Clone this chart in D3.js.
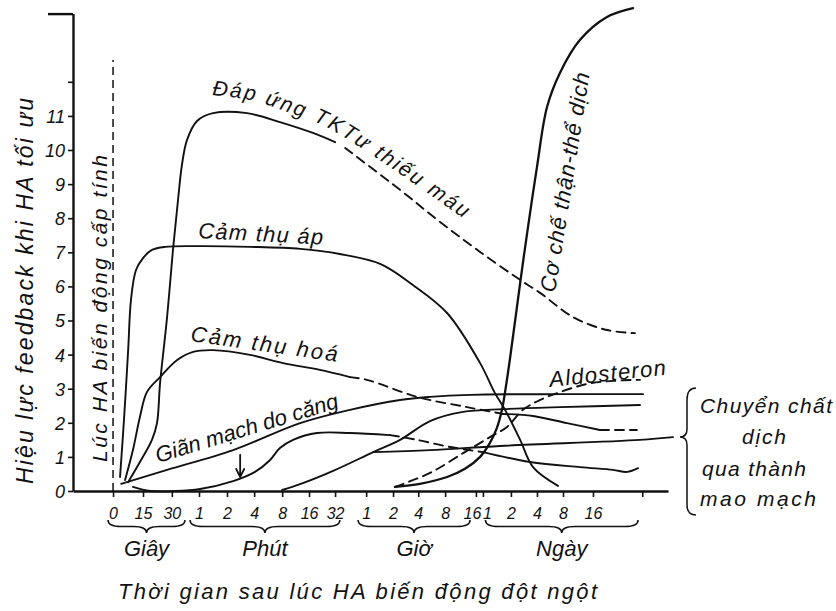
<!DOCTYPE html>
<html>
<head>
<meta charset="utf-8">
<script src="https://cdn.jsdelivr.net/npm/d3@7"></script>
<style>
  body { margin: 0; background: #fff; }
  svg { display: block; }
  text { font-family: "Liberation Sans", "DejaVu Sans", sans-serif; font-style: italic; fill: #111; }
</style>
</head>
<body>
<svg id="chart" width="836" height="611"></svg>
<script>
// ---- time axis: tick positions (axis units) and their labels ----
const tickPos    = [0, 1.07, 2.1, 3.07, 4.07, 5.04, 6.04, 7.0, 7.93, 9.04, 10.0, 10.9, 11.86, 12.96, 13.21, 14.21, 15.14, 16.07, 17.14, 18.9];
const tickLabels = ["0", "15", "30", "1", "2", "4", "8", "16", "32", "1", "2", "4", "8", "16", "1", "2", "4", "8", "16", ""];
const groupNames = ["Giây", "Phút", "Giờ", "Ngày"];
const groupSpans = [[-0.18, 2.57], [2.75, 8.1], [8.75, 12.75], [13.3, 18.75]];

// ---- effect axis ----
const yTickValues = [0, 1, 2, 3, 4, 5, 6, 7, 8, 9, 10, 11, 12, 14];
const yTickLabels = ["0", "1", "2", "3", "4", "5", "6", "7", "8", "9", "10", "11", "", ""];

// ---- feedback curves: [time position, effect] ----
const baroreceptor = [[0.25,0.41],[0.39,2.08],[0.54,4.13],[0.64,5.6],[0.82,6.48],[1.07,6.83],[1.39,7.07],[1.86,7.16],[3.11,7.18],[4.89,7.16],[6.68,7.1],[8.1,6.95],[9.54,6.66],[10.71,6.04],[11.93,5.22],[13.11,3.75],[13.64,2.87],[14.0,2.38],[14.54,1.5],[15.0,0.7],[15.89,0.15]];

const chemoA      = [[0.43,0.32],[0.71,1.2],[0.96,2.17],[1.21,2.9],[1.68,3.34],[2.29,3.84],[2.86,4.08],[3.57,4.13],[4.89,3.99],[6.07,3.75],[7.39,3.55],[8.46,3.34]];
const chemoB      = [[8.46,3.34],[9.07,3.26],[10.86,2.76],[12.64,2.46],[13.93,2.26]];
const chemoC      = [[13.93,2.26],[15.0,2.2],[16.21,1.99],[17.39,1.79]];
const chemoD      = [[17.39,1.79],[18.71,1.79]];

const cnsSolid    = [[0.54,0.26],[0.96,0.85],[1.39,1.5],[1.57,1.99],[1.68,3.17],[1.93,5.1],[2.14,7.07],[2.32,8.53],[2.46,9.56],[2.64,10.29],[3.0,10.85],[3.57,11.08],[4.79,11.08],[5.96,10.82],[7.14,10.5],[7.93,10.23]];
const cnsDashed   = [[8.29,10.06],[10.25,8.83],[11.68,7.89],[13.11,7.01],[14.54,6.19],[15.25,5.81],[16.43,5.1],[17.64,4.72],[18.64,4.63]];

const stressRelax = [[0.29,0.21],[1.93,0.62],[4.29,1.2],[6.68,1.99],[8.46,2.38],[10.25,2.67],[11.32,2.76],[12.75,2.82],[15.96,2.84],[18.93,2.84]];

const arrowA      = [[0.71,0.12],[1.32,0.0],[2.21,0.0],[3.11,0.06],[4.29,0.29],[5.07,0.56],[5.61,0.91],[5.96,1.26],[6.43,1.5],[7.29,1.7],[8.46,1.7],[9.89,1.64]];
const arrowB      = [[9.89,1.64],[10.86,1.5],[12.04,1.29],[13.21,1.14]];
const arrowC      = [[13.21,1.14],[14.89,0.85],[16.68,0.7],[17.86,0.62],[18.36,0.56],[18.75,0.67]];

const fluidRise   = [[6.04,0.03],[6.68,0.2],[7.86,0.59],[9.29,1.14],[10.25,1.5],[11.32,2.05],[12.5,2.32],[13.93,2.4],[15.96,2.46],[18.82,2.52]];
const fluidShift  = [[9.29,1.14],[11.32,1.2],[13.82,1.32],[18.82,1.5],[20.0,1.58]];

const renal       = [[10.07,0.12],[10.96,0.21],[11.93,0.41],[12.57,0.65],[13.11,1.0],[13.46,1.41],[13.71,1.85],[13.89,2.38],[14.0,2.9],[14.18,3.9],[14.54,6.1],[14.79,7.57],[15.14,9.5],[15.5,11.26],[15.96,12.26],[16.68,13.23],[17.64,13.9],[18.57,14.16]];
const aldosterone = [[10.07,0.12],[11.32,0.53],[12.5,1.11],[13.46,1.58],[14.07,1.88],[14.64,2.38],[15.25,2.67],[15.96,2.9],[16.93,3.14],[17.86,3.23],[18.82,3.26]];

// ---- drawing ----
const svg = d3.select("#chart");
const x = d3.scaleLinear().domain([-1.43, 19.82]).range([73, 668]);
const y = d3.scaleLinear().domain([0, 14]).range([491, 13.6]);
const ink = "#111";

const line = d3.line().x(d => x(d[0])).y(d => y(d[1])).curve(d3.curveCatmullRom.alpha(0.5));

const curves = [
  {d: baroreceptor, dash: null},
  {d: chemoA, dash: null}, {d: chemoB, dash: "9,6"}, {d: chemoC, dash: null}, {d: chemoD, dash: "9,6"},
  {d: cnsSolid, dash: null}, {d: cnsDashed, dash: "9,6"},
  {d: stressRelax, dash: null},
  {d: arrowA, dash: null}, {d: arrowB, dash: "9,6"}, {d: arrowC, dash: null},
  {d: fluidRise, dash: null}, {d: fluidShift, dash: null},
  {d: renal, dash: null, w: 2.3},
  {d: aldosterone, dash: "9,6"}
];

svg.append("g").selectAll("path").data(curves).join("path")
  .attr("d", c => line(c.d))
  .attr("fill", "none")
  .attr("stroke", ink)
  .attr("stroke-width", c => c.w || 1.9)
  .attr("stroke-linecap", "round")
  .attr("stroke-dasharray", c => c.dash);

// vertical dashed marker at the moment of the pressure change
svg.append("line")
  .attr("x1", x(0)).attr("x2", x(0))
  .attr("y1", y(0)).attr("y2", y(12.64))
  .attr("stroke", ink).attr("stroke-width", 1.5).attr("stroke-dasharray", "8,5");

// arrow pointing down
const ax = x(4.54), ay1 = y(1.06), ay2 = y(0.41);
svg.append("path")
  .attr("d", `M${ax},${ay1} L${ax},${ay2} M${ax-4},${ay2-8} L${ax},${ay2} L${ax+4},${ay2-8}`)
  .attr("fill", "none").attr("stroke", ink).attr("stroke-width", 1.8).attr("stroke-linecap", "round");

// y axis
const yAxis = svg.append("g").attr("transform", `translate(${x(-1.43)},0)`)
  .call(d3.axisLeft(y).tickValues(yTickValues).tickSize(5).tickSizeOuter(0)
        .tickFormat((d, i) => yTickLabels[i]));
yAxis.select(".domain").attr("stroke", ink).attr("stroke-width", 2.4);
yAxis.selectAll(".tick line").attr("stroke", ink).attr("stroke-width", 1.6)
  .filter(d => d === 14).attr("x2", -25).attr("stroke-width", 2.4);
yAxis.selectAll(".tick text")
  .attr("x", -8).attr("dy", "0.36em")
  .style("font-family", "'Liberation Sans', sans-serif").style("font-style", "italic")
  .style("font-size", "18px").attr("fill", ink);

// x axis
const xAxis = svg.append("g").attr("transform", `translate(0,${y(0)})`)
  .call(d3.axisBottom(x).tickValues(tickPos).tickSize(6).tickSizeOuter(0)
        .tickFormat((d, i) => tickLabels[i]));
xAxis.select(".domain").attr("stroke", ink).attr("stroke-width", 2.4);
xAxis.selectAll(".tick line").attr("stroke", ink).attr("stroke-width", 1.6);
xAxis.selectAll(".tick text")
  .attr("y", 17).attr("dy", "0.71em")
  .attr("dx", (d, i) => i === 13 ? -4 : i === 14 ? 4 : 0)
  .style("font-family", "'Liberation Sans', sans-serif").style("font-style", "italic")
  .style("font-size", "16px").attr("fill", ink);

// group braces under the time axis
function hBrace(x1, x2, yTop, h) {
  const xm = (x1 + x2) / 2, m = yTop + h / 2;
  return `M${x1},${yTop} Q${x1},${m} ${x1 + h},${m} L${xm - h},${m} Q${xm},${m} ${xm},${yTop + h}` +
         ` Q${xm},${m} ${xm + h},${m} L${x2 - h},${m} Q${x2},${m} ${x2},${yTop}`;
}
const gGroups = svg.append("g");
gGroups.selectAll("path").data(groupSpans).join("path")
  .attr("d", s => hBrace(x(s[0]), x(s[1]), 520, 13))
  .attr("fill", "none").attr("stroke", ink).attr("stroke-width", 1.5);
gGroups.selectAll("text").data(groupNames).join("text")
  .attr("x", (d, i) => x((groupSpans[i][0] + groupSpans[i][1]) / 2))
  .attr("y", 556).attr("text-anchor", "middle")
  .style("font-size", "22px").text(d => d);

// brace for the capillary fluid shift label
const bx = 692, by1 = 388, bym = 437, by2 = 515, bw = 10;
svg.append("path")
  .attr("d", `M${bx + 4},${by1} Q${bx - bw / 2},${by1} ${bx - bw / 2},${by1 + 12} L${bx - bw / 2},${bym - 8}` +
             ` Q${bx - bw / 2},${bym} ${bx - bw - 2},${bym} Q${bx - bw / 2},${bym} ${bx - bw / 2},${bym + 8}` +
             ` L${bx - bw / 2},${by2 - 10} Q${bx - bw / 2},${by2} ${bx + 4},${by2}`)
  .attr("fill", "none").attr("stroke", ink).attr("stroke-width", 1.5);

const sideLines = [["Chuyển chất", 700, 413, 132], ["dịch", 742, 444, 44], ["qua thành", 702, 476, 104], ["mao mạch", 700, 506, 116]];
svg.append("g").selectAll("text").data(sideLines).join("text")
  .attr("x", d => d[1]).attr("y", d => d[2])
  .attr("textLength", d => d[3]).attr("lengthAdjust", "spacing")
  .style("font-size", "21px").text(d => d[0]);

// axis titles
svg.append("text")
  .attr("transform", "translate(33,484) rotate(-90)")
  .attr("textLength", 386).attr("lengthAdjust", "spacing")
  .style("font-size", "23px").text("Hiệu lực feedback khi HA tối ưu");

svg.append("text")
  .attr("transform", "translate(107,462) rotate(-90)")
  .attr("textLength", 307).attr("lengthAdjust", "spacing")
  .style("font-size", "21px").text("Lúc HA biến động cấp tính");

svg.append("text")
  .attr("x", 118).attr("y", 599)
  .attr("textLength", 479).attr("lengthAdjust", "spacing")
  .style("font-size", "22px").text("Thời gian sau lúc HA biến động đột ngột");

// curve labels
const cnsLabelPath = d3.line().curve(d3.curveCatmullRom)([[212,95],[250,100],[285,111],[322,125],[358,146],[400,174],[480,230]]);
svg.append("defs").append("path").attr("id", "cnsLabel").attr("d", cnsLabelPath);
svg.append("text").style("font-size", "21px").style("letter-spacing", "2.2px")
  .append("textPath").attr("href", "#cnsLabel").text("Đáp ứng TKTư thiếu máu");

const labels = [
  {t: "Cảm thụ áp",         x: 198, y: 238, r: 3,   len: 125},
  {t: "Cảm thụ hoá",        x: 190, y: 341, r: 8,   len: 148},
  {t: "Giãn mạch do căng",  x: 158, y: 463, r: -17, len: 190},
  {t: "Aldosteron",         x: 550, y: 387, r: -6,  len: 117},
  {t: "Cơ chế thận-thể dịch", x: 555, y: 293, r: -81, len: 222}
];
svg.append("g").selectAll("text").data(labels).join("text")
  .attr("transform", d => `translate(${d.x},${d.y}) rotate(${d.r})`)
  .attr("textLength", d => d.len).attr("lengthAdjust", "spacing")
  .style("font-size", "22px").text(d => d.t);
</script>
</body>
</html>
